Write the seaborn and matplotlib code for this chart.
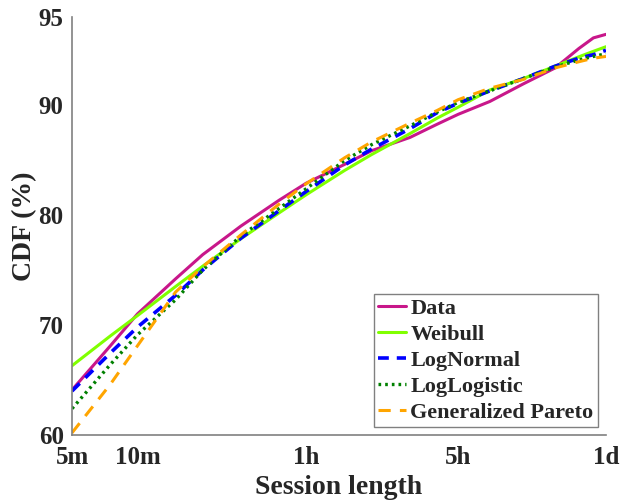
import numpy as np
import pandas as pd
import matplotlib
matplotlib.use("Agg")
import matplotlib.pyplot as plt
import seaborn as sns

# session length in seconds (5m .. 1d)
t_sec = [300, 450, 600, 900, 1200, 1800, 2700, 3600, 5400, 7200, 10800,
         14400, 18000, 25200, 36000, 50400, 64800, 75600, 86400]

data_cdf = [64.1, 68.1, 71.0, 74.2, 76.4, 79.0, 81.35, 82.9, 84.6, 85.85, 87.05,
            88.25, 89.15, 90.2, 91.2, 92.1, 93.2, 93.8, 94.0]
weibull = [66.3, 69.0, 70.85, 73.5, 75.35, 77.85, 80.2, 81.85, 84.05, 85.5, 87.4,
           88.8, 89.8, 90.85, 91.5, 92.2, 92.73, 93.04, 93.3]
lognormal = [64.0, 67.45, 69.8, 72.7, 75.0, 77.9, 80.4, 82.15, 84.55, 86.0, 87.85,
             89.3, 90.1, 90.8, 91.5, 92.2, 92.65, 92.85, 93.1]
loglogistic = [62.4, 66.4, 69.1, 72.3, 75.0, 78.1, 80.6, 82.4, 84.95, 86.4, 88.1,
               89.35, 90.15, 90.8, 91.5, 92.15, 92.55, 92.75, 92.9]
gpareto = [60.2, 64.6, 68.1, 73.0, 75.3, 78.2, 81.0, 82.85, 85.2, 86.65, 88.35,
           89.5, 90.3, 90.95, 91.45, 92.1, 92.45, 92.65, 92.75]

x_ticks = [300, 600, 3600, 18000, 86400]
x_ticklabels = ["5m", "10m", "1h", "5h", "1d"]
y_ticks = [60, 70, 80, 90, 95]

series = {
    "Data": data_cdf,
    "Weibull": weibull,
    "LogNormal": lognormal,
    "LogLogistic": loglogistic,
    "Generalized Pareto": gpareto,
}
styles = {
    "Data": dict(color="#C8178A", lw=2.2, linestyle="-"),
    "Weibull": dict(color="#80FF00", lw=2.2, linestyle="-"),
    "LogNormal": dict(color="#0000FF", lw=2.6, linestyle=(0, (3, 2.2))),
    "LogLogistic": dict(color="#008000", lw=2.4, linestyle=(0, (0.8, 1.2))),
    "Generalized Pareto": dict(color="#FFA500", lw=2.2, linestyle=(0, (4, 3))),
}

df = pd.DataFrame({"t": t_sec, **series})

sns.set_style("white")
plt.rcParams["font.family"] = ["Liberation Serif", "DejaVu Serif"]
plt.rcParams["font.weight"] = "bold"


# upper part of the y axis (90-95) is stretched in the original figure
def y_fwd(y):
    y = np.asarray(y, dtype=float)
    return np.where(y <= 90, y - 60, 30 + (y - 90) * 1.606)


def y_inv(p):
    p = np.asarray(p, dtype=float)
    return np.where(p <= 30, p + 60, 90 + (p - 30) / 1.606)


fig = plt.figure(figsize=(6.23, 5.01), dpi=100)
ax = fig.add_axes([0.1156, 0.1317, 0.8571, 0.835])

for name in series:
    sns.lineplot(data=df, x="t", y=name, ax=ax, label=name, **styles[name])

ax.set_xscale("log")
ax.set_yscale("function", functions=(y_fwd, y_inv))
ax.set_xlim(300, 86400)
ax.set_ylim(60, 95)
ax.set_xticks(x_ticks)
ax.set_xticklabels(x_ticklabels)
ax.xaxis.set_minor_locator(matplotlib.ticker.NullLocator())
ax.set_yticks(y_ticks)
ax.set_yticklabels([str(v) for v in y_ticks])
ax.yaxis.set_minor_locator(matplotlib.ticker.NullLocator())

ax.tick_params(axis="both", direction="in", length=5, width=1, color="#777777",
               labelsize=18)
ax.tick_params(axis="x", pad=8)
ax.tick_params(axis="y", pad=6)
for lab in ax.get_xticklabels() + ax.get_yticklabels():
    lab.set_fontweight("bold")

for side in ["top", "right"]:
    ax.spines[side].set_visible(False)
for side in ["left", "bottom"]:
    ax.spines[side].set_color("#808080")
    ax.spines[side].set_linewidth(1.2)

ax.set_xlabel("Session length", fontsize=20, fontweight="bold", labelpad=4)
ax.set_ylabel("CDF (%)", fontsize=20, fontweight="bold", labelpad=1)

leg = ax.legend(loc="lower right", bbox_to_anchor=(0.985, 0.019), borderaxespad=0,
                fancybox=False, framealpha=1, edgecolor="#808080",
                prop={"size": 16, "weight": "bold"}, handlelength=1.25,
                handletextpad=0.2, labelspacing=0.24, borderpad=0.2)
leg.get_frame().set_linewidth(1.0)

fig.savefig("out.png", dpi=100)
